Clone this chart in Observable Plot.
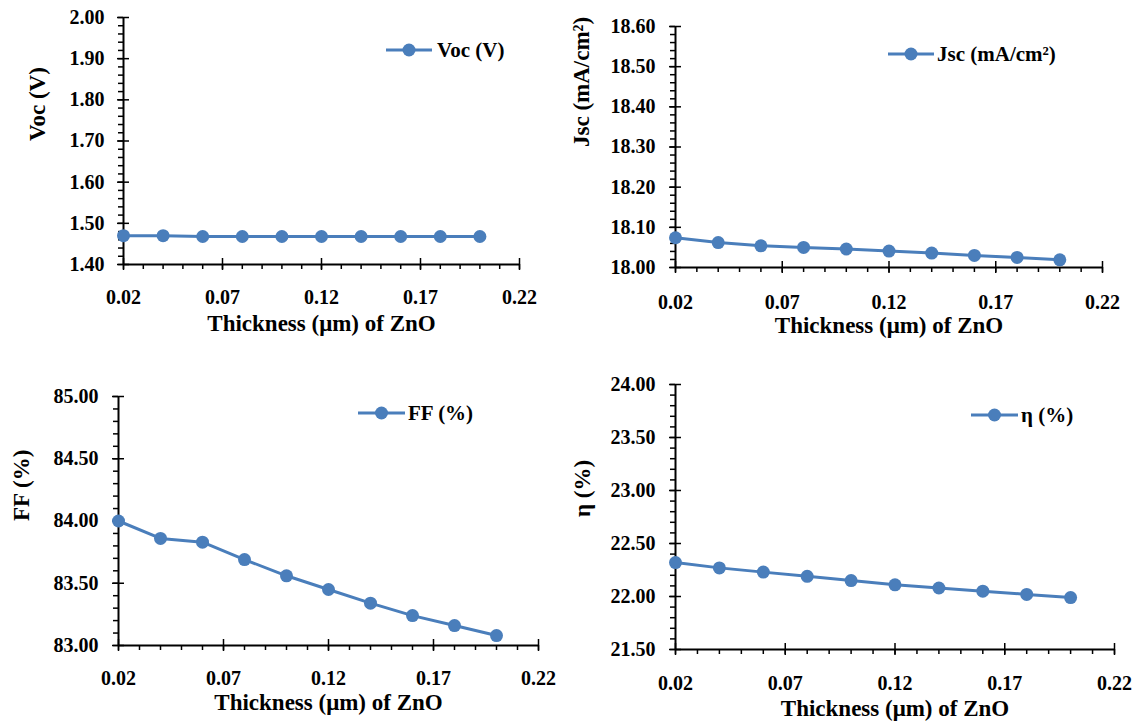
<!DOCTYPE html>
<html>
<head>
<meta charset="utf-8">
<script src="https://cdn.jsdelivr.net/npm/d3@7"></script>
<script src="https://cdn.jsdelivr.net/npm/@observablehq/plot@0.6"></script>
<style>
  html, body { margin: 0; padding: 0; background: #fff; }
  #chart { position: relative; width: 1144px; height: 721px; background: #fff; overflow: hidden; }
  #chart svg { position: absolute; }
</style>
</head>
<body>
<div id="chart"></div>
<script>
// ---- data ----
const thickness = [0.02, 0.04, 0.06, 0.08, 0.10, 0.12, 0.14, 0.16, 0.18, 0.20];
const voc = [1.470, 1.470, 1.468, 1.468, 1.468, 1.468, 1.468, 1.468, 1.468, 1.468];
const jsc = [18.074, 18.062, 18.054, 18.050, 18.046, 18.041, 18.036, 18.030, 18.025, 18.019];
const ff  = [84.00, 83.86, 83.83, 83.69, 83.56, 83.45, 83.34, 83.24, 83.16, 83.08];
const eta = [22.32, 22.27, 22.23, 22.19, 22.15, 22.11, 22.08, 22.05, 22.02, 21.99];

// ---- tick labels ----
const xTicks = [0.02, 0.07, 0.12, 0.17, 0.22];
const vocTicks = [1.40, 1.50, 1.60, 1.70, 1.80, 1.90, 2.00];
const jscTicks = [18.00, 18.10, 18.20, 18.30, 18.40, 18.50, 18.60];
const ffTicks = [83.00, 83.50, 84.00, 84.50, 85.00];
const etaTicks = [21.50, 22.00, 22.50, 23.00, 23.50, 24.00];

// ---- labels ----
const xTitle = "Thickness (μm) of ZnO";
const vocLabel = "Voc (V)";
const jscLabel = "Jsc (mA/cm²)";
const ffLabel = "FF (%)";
const etaLabel = "η (%)";

const COLOR = "#4a7ebb";
const FONT = "Liberation Serif, Times New Roman, serif";
const fmt2 = d3.format(".2f");
const xMinor = d3.range(2, 23).map(d => d / 100);

function panel(cfg) {
  const data = thickness.map((t, i) => ({t, v: cfg.values[i]}));
  const yMinor = d3.range(Math.round(cfg.yDomain[0] / cfg.minorStep), Math.round(cfg.yDomain[1] / cfg.minorStep) + 1)
    .map(k => +(k * cfg.minorStep).toFixed(4));
  const plot = Plot.plot({
    width: cfg.w, height: cfg.h,
    marginLeft: cfg.mL, marginRight: cfg.mR, marginTop: cfg.mT, marginBottom: cfg.mB,
    style: {fontFamily: FONT, fontSize: "20px", fontWeight: "bold", color: "#000", background: "transparent", overflow: "visible"},
    x: {domain: [0.02, 0.22]},
    y: {domain: cfg.yDomain},
    marks: [
      // axis lines
      Plot.ruleX([0.02], {stroke: "#000", strokeWidth: 2}),
      Plot.ruleY([cfg.yDomain[0]], {stroke: "#000", strokeWidth: 2}),
      // x minor ticks (outward)
      Plot.axisX({ticks: xMinor, tickSize: 5, tickFormat: () => "", label: null, strokeWidth: 1.5}),
      // x major ticks (cross)
      Plot.axisX({ticks: xTicks, tickSize: 12, dy: -6, tickFormat: () => "", label: null, strokeWidth: 1.5}),
      // x labels
      Plot.axisX({ticks: xTicks, tickSize: 0, tickPadding: cfg.xPad, tickFormat: fmt2, label: null,
        fontSize: 20, fontWeight: "bold", fontFamily: FONT}),
      // y minor ticks (outward)
      Plot.axisY({ticks: yMinor, tickSize: 5, tickFormat: () => "", label: null, strokeWidth: 1.5}),
      // y major ticks (cross)
      Plot.axisY({ticks: cfg.yTicks, tickSize: 12, dx: 6, tickFormat: () => "", label: null, strokeWidth: 1.5}),
      // y labels
      Plot.axisY({ticks: cfg.yTicks, tickSize: 0, tickPadding: cfg.yPad, tickFormat: fmt2, label: null,
        fontSize: 20, fontWeight: "bold", fontFamily: FONT}),
      // titles
      Plot.text([xTitle], {frameAnchor: "bottom", dy: cfg.xTitleDy, lineAnchor: "middle",
        fontSize: 23, fontWeight: "bold", fontFamily: FONT, fill: "#000"}),
      Plot.text([cfg.label], {frameAnchor: "left", rotate: -90, dx: cfg.yTitleDx, lineAnchor: "middle",
        fontSize: 23, fontWeight: "bold", fontFamily: FONT, fill: "#000"}),
      // series
      Plot.line(data, {x: "t", y: "v", stroke: COLOR, strokeWidth: 3}),
      Plot.dot(data, {x: "t", y: "v", r: 6.5, fill: COLOR, stroke: "none"})
    ]
  });
  plot.style.left = cfg.left + "px";
  plot.style.top = cfg.top + "px";
  // legend
  const L = cfg.leg;
  const g = d3.select(plot).append("g").attr("class", "legend").attr("text-anchor", "start");
  g.append("line").attr("x1", L.x1).attr("x2", L.x2).attr("y1", L.y).attr("y2", L.y)
    .attr("stroke", COLOR).attr("stroke-width", 3);
  g.append("circle").attr("cx", (L.x1 + L.x2) / 2).attr("cy", L.y).attr("r", 6.5).attr("fill", COLOR);
  g.append("text").attr("x", L.tx).attr("y", L.y).attr("dy", "0.35em").attr("text-anchor", "start")
    .attr("font-family", FONT).attr("font-size", 21).attr("font-weight", "bold").attr("fill", "#000")
    .text(cfg.label);
  document.getElementById("chart").appendChild(plot);
}

panel({values: voc, yDomain: [1.40, 2.00], yTicks: vocTicks, minorStep: 0.02, label: vocLabel,
  left: 0, top: 0, w: 570, h: 360, mL: 123, mR: 51, mT: 17, mB: 96,
  xPad: 25, yPad: 19, xTitleDy: 59, yTitleDx: -86,
  leg: {x1: 386, x2: 432, y: 50, tx: 437}});

panel({values: jsc, yDomain: [18.00, 18.60], yTicks: jscTicks, minorStep: 0.02, label: jscLabel,
  left: 570, top: 0, w: 574, h: 360, mL: 105, mR: 42, mT: 26, mB: 93,
  xPad: 27, yPad: 20, xTitleDy: 58, yTitleDx: -94,
  leg: {x1: 318, x2: 364, y: 54, tx: 367}});

panel({values: ff, yDomain: [83.00, 85.00], yTicks: ffTicks, minorStep: 0.1, label: ffLabel,
  left: 0, top: 360, w: 570, h: 361, mL: 118, mR: 32, mT: 36, mB: 76,
  xPad: 25, yPad: 20, xTitleDy: 57, yTitleDx: -97,
  leg: {x1: 358, x2: 405, y: 53, tx: 408}});

panel({values: eta, yDomain: [21.50, 24.00], yTicks: etaTicks, minorStep: 0.1, label: etaLabel,
  left: 570, top: 360, w: 574, h: 361, mL: 105, mR: 30, mT: 24, mB: 72,
  xPad: 26, yPad: 20, xTitleDy: 59, yTitleDx: -93,
  leg: {x1: 401, x2: 448, y: 55, tx: 451}});
</script>
</body>
</html>
